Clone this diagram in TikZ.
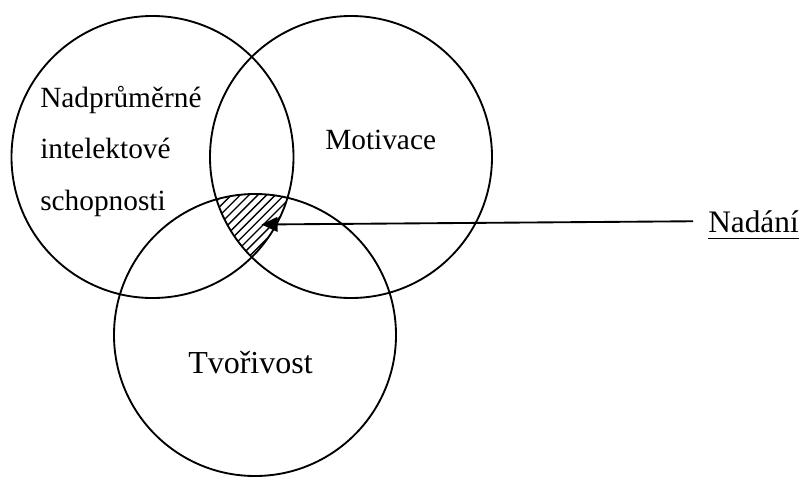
\documentclass[tikz,border=0pt]{standalone}
\usepackage{fontspec}
\setmainfont{Liberation Serif}
\usetikzlibrary{arrows.meta}
\tikzset{
    ring/.style={shape=circle,draw=black,line width=1.4pt,minimum size=211.5pt,inner sep=0pt},
    word/.style={inner sep=0pt,font=\fontsize{22}{38.6}\selectfont},
}
\begin{document}
\begin{tikzpicture}[x=0.75pt,y=-0.75pt]
    \useasboundingbox (0,0) rectangle (803,479);
    \node[ring] (I) at (152.5,157) {};
    \node[ring] (M) at (351,157) {};
    \node[ring] (T) at (255,335) {};
    \begin{scope}
        \clip (I.center) circle [radius=141];
        \clip (M.center) circle [radius=141];
        \clip (T.center) circle [radius=141];
        \foreach \k in {0,...,24}
            \draw[line width=1pt] (100+8.8*\k,300) -- ++(120,-120);
    \end{scope}
    \node[word,anchor=base west,align=left] (Itext) at (40,210) {Nadprůměrné\\intelektové\\schopnosti};
    \node[word,anchor=base west] (Mtext) at (325,149) {Motivace};
    \node[word,anchor=base,font=\fontsize{24}{28}\selectfont] (Ttext) at (250.5,373) {Tvořivost};
    \node[word,anchor=base west,font=\fontsize{23.5}{28}\selectfont] (N) at (708,232) {Nadání};
    \coordinate (tip) at (261.5,224.5);
    \draw[line width=1.4pt,-{Triangle[length=12pt,width=11pt]}] ([xshift=-11.25pt]N.west) -- (tip);
    \draw[line width=1.3pt] ([yshift=-4.9pt]N.base west) -- ([yshift=-4.9pt]N.base east);
\end{tikzpicture}
\end{document}
